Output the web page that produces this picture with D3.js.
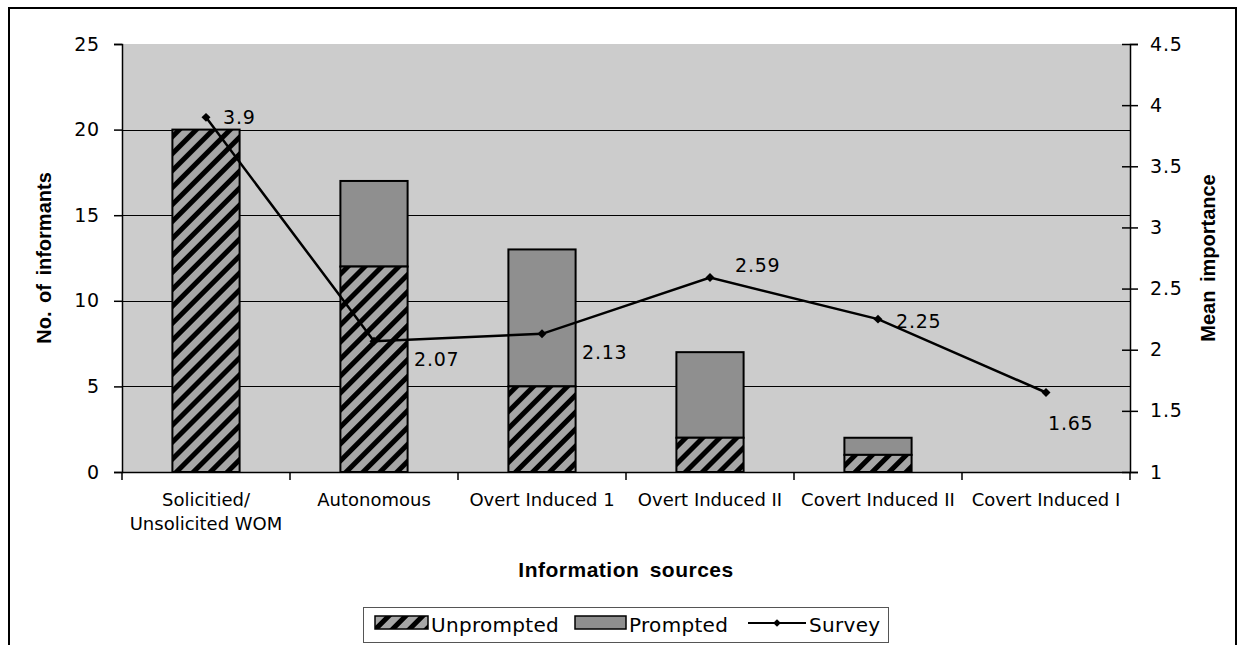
<!DOCTYPE html>
<html lang="en">
<head>
<meta charset="UTF-8">
<title>Information sources</title>
<script src="https://d3js.org/d3.v7.min.js"></script>
<style>
  body { margin: 0; background: #fff; }
  text { font-family: "DejaVu Sans", Verdana, sans-serif; fill: #000; }
</style>
</head>
<body>
<svg width="1245" height="645"></svg>
<script>
// data
const categories = ['Solicitied/\nUnsolicited WOM', 'Autonomous', 'Overt Induced 1', 'Overt Induced II', 'Covert Induced II', 'Covert Induced I'];
const unprompted = [20, 12, 5, 2, 1, 0];
const prompted = [0, 5, 8, 5, 1, 0];
const survey = [3.9, 2.07, 2.13, 2.59, 2.25, 1.65];
const leftTicks = [0, 5, 10, 15, 20, 25];
const rightTicks = [1, 1.5, 2, 2.5, 3, 3.5, 4, 4.5];

// where each survey label sits relative to its marker (dx to text start, dy to text middle)
const labelOffsets = [[17, 0], [40, 18], [40, 18], [25, -12], [18, 2], [2, 31]];

const svg = d3.select('svg');
const pLeft = 122, pRight = 1130, pTop = 44, pBottom = 472;
const titleFont = '"Liberation Sans", Arial, Helvetica, sans-serif';

const x = d3.scaleBand().domain(categories).range([pLeft, pRight]);
const y = d3.scaleLinear().domain([0, 25]).range([pBottom, pTop]);
const y2 = d3.scaleLinear().domain([1, 4.5]).range([pBottom, pTop]);

// hatch for unprompted
const defs = svg.append('defs');
const pat = defs.append('pattern')
    .attr('id', 'hatch')
    .attr('patternUnits', 'userSpaceOnUse')
    .attr('width', 12).attr('height', 12)
    .attr('patternTransform', 'rotate(45)');
pat.append('rect').attr('width', 12).attr('height', 12).attr('fill', '#a6a6a6');
pat.append('rect').attr('width', 5).attr('height', 12).attr('fill', '#000');

// outer border
svg.append('rect')
    .attr('x', 9).attr('y', 8).attr('width', 1227).attr('height', 700)
    .attr('fill', 'none').attr('stroke', '#000').attr('stroke-width', 2);

// plot area
svg.append('rect')
    .attr('x', pLeft).attr('y', pTop).attr('width', pRight - pLeft).attr('height', pBottom - pTop)
    .attr('fill', '#cccccc');

svg.append('g')
    .selectAll('line')
    .data(leftTicks.filter(d => d > 0 && d < 25))
    .join('line')
    .attr('x1', pLeft).attr('x2', pRight)
    .attr('y1', d => Math.round(y(d)) + 0.5).attr('y2', d => Math.round(y(d)) + 0.5)
    .attr('stroke', '#000').attr('stroke-width', 1);

// bars
const barW = x.bandwidth() / 2.5;
const stacks = categories.map((c, i) => ({ c, u: unprompted[i], p: prompted[i] }));

const bars = svg.append('g');
bars.selectAll('.p')
    .data(stacks.filter(d => d.p > 0))
    .join('rect')
    .attr('x', d => x(d.c) + (x.bandwidth() - barW) / 2)
    .attr('width', barW)
    .attr('y', d => y(d.u + d.p))
    .attr('height', d => y(d.u) - y(d.u + d.p))
    .attr('fill', '#8f8f8f')
    .attr('stroke', '#000').attr('stroke-width', 2);

bars.selectAll('.u')
    .data(stacks.filter(d => d.u > 0))
    .join('rect')
    .attr('x', d => x(d.c) + (x.bandwidth() - barW) / 2)
    .attr('width', barW)
    .attr('y', d => y(d.u))
    .attr('height', d => y(0) - y(d.u))
    .attr('fill', 'url(#hatch)')
    .attr('stroke', '#000').attr('stroke-width', 2);

// axes
const axL = svg.append('g')
    .attr('transform', `translate(${pLeft},0)`)
    .call(d3.axisLeft(y).tickValues(leftTicks).tickSize(8).tickPadding(14));
const axR = svg.append('g')
    .attr('transform', `translate(${pRight},0)`)
    .call(d3.axisRight(y2).tickValues(rightTicks).tickSize(8).tickPadding(12).tickFormat(d3.format('')));
axR.selectAll('.tick line').attr('x1', -8);
const axB = svg.append('g')
    .attr('transform', `translate(0,${pBottom})`)
    .call(d3.axisBottom(x).tickSize(0).tickFormat(''));
axB.selectAll('.tick').remove();

[axL, axR, axB].forEach(a => {
    a.select('.domain').attr('stroke', '#000').attr('stroke-width', 1.5);
    a.selectAll('.tick line').attr('stroke', '#000').attr('stroke-width', 1.5);
    a.selectAll('.tick text')
        .style('font-family', '"DejaVu Sans", Verdana, sans-serif')
        .style('font-size', '19px')
        .style('letter-spacing', '0.8px')
        .attr('fill', '#000');
});

// category tick marks at band edges
const edges = categories.map(c => x(c)).concat([pRight]);
svg.append('g')
    .selectAll('line')
    .data(edges)
    .join('line')
    .attr('x1', d => d).attr('x2', d => d)
    .attr('y1', pBottom).attr('y2', pBottom + 8)
    .attr('stroke', '#000').attr('stroke-width', 1.5);

svg.append('g')
    .selectAll('text')
    .data(categories)
    .join('text')
    .attr('text-anchor', 'middle')
    .style('font-size', '18px')
    .attr('transform', d => `translate(${x(d) + x.bandwidth() / 2},${pBottom + 34})`)
    .selectAll('tspan')
    .data(d => d.split('\n'))
    .join('tspan')
    .attr('x', 0)
    .attr('dy', (d, i) => i === 0 ? 0 : 24)
    .text(d => d);

// survey line
const cx = i => x(categories[i]) + x.bandwidth() / 2;
const line = d3.line().x((d, i) => cx(i)).y(d => y2(d));
svg.append('path')
    .datum(survey)
    .attr('d', line)
    .attr('fill', 'none')
    .attr('stroke', '#000')
    .attr('stroke-width', 2.5);

svg.append('g')
    .selectAll('path')
    .data(survey)
    .join('path')
    .attr('d', d3.symbol(d3.symbolSquare, 40))
    .attr('transform', (d, i) => `translate(${cx(i)},${y2(d)}) rotate(45)`)
    .attr('fill', '#000');

svg.append('g')
    .selectAll('text')
    .data(survey)
    .join('text')
    .attr('x', (d, i) => cx(i) + labelOffsets[i][0])
    .attr('y', (d, i) => y2(d) + labelOffsets[i][1])
    .attr('dy', '0.36em')
    .style('font-size', '19px')
    .style('letter-spacing', '0.8px')
    .text(d => d);

// axis titles
svg.append('text')
    .attr('transform', `translate(51,${(pTop + pBottom) / 2}) rotate(-90)`)
    .attr('text-anchor', 'middle')
    .style('font-family', titleFont)
    .style('font-weight', 'bold')
    .style('font-size', '20px')
    .style('word-spacing', '3px')
    .text('No. of informants');

svg.append('text')
    .attr('transform', `translate(1215,${(pTop + pBottom) / 2}) rotate(-90)`)
    .attr('text-anchor', 'middle')
    .style('font-family', titleFont)
    .style('font-weight', 'bold')
    .style('font-size', '20px')
    .style('word-spacing', '3px')
    .text('Mean importance');

svg.append('text')
    .attr('x', (pLeft + pRight) / 2).attr('y', 577)
    .attr('text-anchor', 'middle')
    .style('font-family', titleFont)
    .style('font-weight', 'bold')
    .style('font-size', '21px')
    .style('letter-spacing', '0.5px')
    .style('word-spacing', '4px')
    .text('Information sources');

// legend
const lg = svg.append('g');
lg.append('rect')
    .attr('x', 363.5).attr('y', 607.5).attr('width', 525).attr('height', 35)
    .attr('fill', '#fff').attr('stroke', '#555').attr('stroke-width', 1);

lg.append('rect').attr('x', 375).attr('y', 616).attr('width', 53).attr('height', 13)
    .attr('fill', 'url(#hatch)').attr('stroke', '#000').attr('stroke-width', 1.5);
lg.append('text').attr('x', 431).attr('y', 632).style('font-size', '20px').style('letter-spacing', '0.3px').text('Unprompted');

lg.append('rect').attr('x', 575).attr('y', 616).attr('width', 51).attr('height', 13)
    .attr('fill', '#8f8f8f').attr('stroke', '#000').attr('stroke-width', 1.5);
lg.append('text').attr('x', 629).attr('y', 632).style('font-size', '20px').style('letter-spacing', '0.3px').text('Prompted');

lg.append('line').attr('x1', 748).attr('x2', 806).attr('y1', 623).attr('y2', 623)
    .attr('stroke', '#000').attr('stroke-width', 2);
lg.append('path').attr('d', d3.symbol(d3.symbolSquare, 30))
    .attr('transform', 'translate(777,623) rotate(45)').attr('fill', '#000');
lg.append('text').attr('x', 809).attr('y', 632).style('font-size', '20px').style('letter-spacing', '0.3px').text('Survey');
</script>
</body>
</html>
